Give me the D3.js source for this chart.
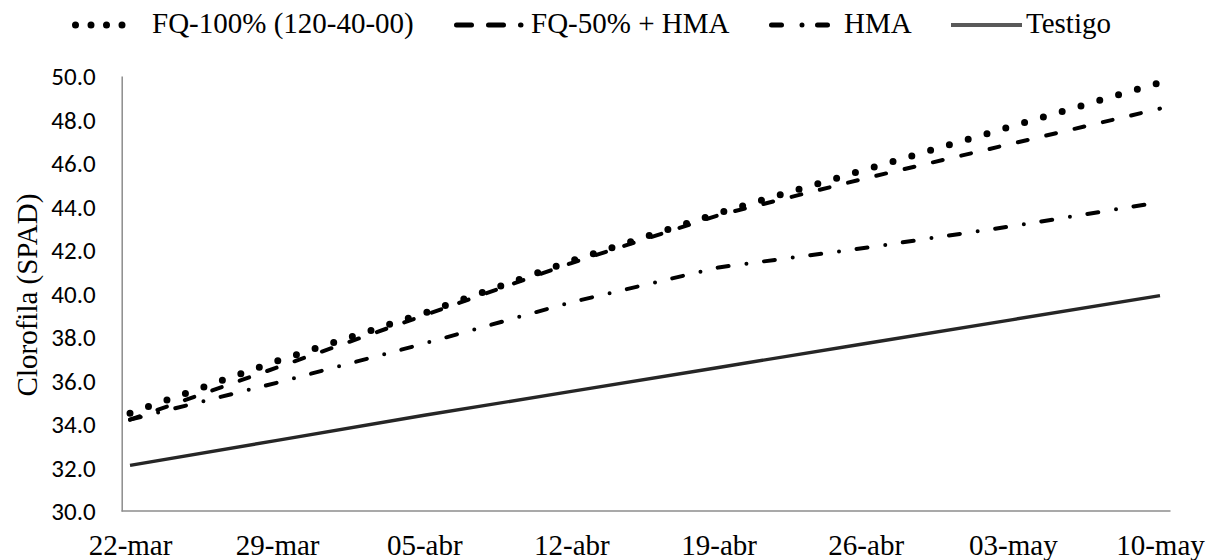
<!DOCTYPE html>
<html>
<head>
<meta charset="utf-8">
<script src="https://cdn.jsdelivr.net/npm/d3@7"></script>
<style>
  html, body { margin: 0; padding: 0; background: #fff; }
  svg { display: block; }
</style>
</head>
<body>
<svg id="chart" width="1207" height="560"></svg>
<script>
// ---- data ----
const dates = ["2019-03-22","2019-03-29","2019-04-05","2019-04-12","2019-04-19","2019-04-26","2019-05-03","2019-05-10"];
const xTickLabels = ["22-mar","29-mar","05-abr","12-abr","19-abr","26-abr","03-may","10-may"];
const yTickValues = [30, 32, 34, 36, 38, 40, 42, 44, 46, 48, 50];
const seriesNames = ["FQ-100% (120-40-00)", "FQ-50% + HMA", "HMA", "Testigo"];
const fq100   = [34.5, 36.9, 39.1, 41.5, 43.7, 45.7, 47.7, 49.7];
const fq50hma = [34.2, 36.6, 39.0, 41.4, 43.6, 45.3, 46.9, 48.5];
const hma     = [34.2, 35.9, 37.7, 39.6, 41.2, 42.1, 43.1, 44.2];
const testigo = [32.1, 33.25, 34.4, 35.5, 36.6, 37.7, 38.8, 39.9];
const yTitle = "Clorofila (SPAD)";

// ---- styles / layout ----
const SERIF = '"Liberation Serif"';
const SANS = '"Carlito"';
const styles = [
  { stroke: "#000", width: 7, dash: "0 19.6", cap: "round",
    lg: { width: 7, dash: "0 15.5", cap: "round", x0: 75.5, x1: 137.5, tx: 152 } },
  { stroke: "#000", width: 4, dash: "10 19.1", cap: "round",
    lg: { width: 5, dash: "15 17", cap: "round", x0: 456.5, x1: 521, tx: 531 } },
  { stroke: "#000", width: 4, dash: "11 18 0 17.7", cap: "round",
    lg: { width: 5, dash: "10 20.5 0 15.5", cap: "round", x0: 771.5, x1: 829.5, tx: 844 } },
  { stroke: "#262626", width: 3.4, dash: null, cap: "butt",
    lg: { width: 4, dash: null, cap: "butt", x0: 951, x1: 1022, tx: 1026, stroke: "#595959" } }
];

const svg = d3.select("#chart");
const parse = d3.utcParse("%Y-%m-%d");
const dts = dates.map(parse);
const halfDay = 12 * 3600 * 1000;

const x = d3.scaleUtc()
  .domain([new Date(dts[0].getTime() - halfDay), new Date(dts[dts.length - 1].getTime() + halfDay)])
  .range([119.5, 1170.5]);
const y = d3.scaleLinear().domain([30, 50]).range([511, 76]);

// axes
const xAxis = d3.axisBottom(x).tickValues(dts).tickSize(0).tickFormat((d, i) => xTickLabels[i]);
const gx = svg.append("g").attr("transform", `translate(0,${y(30)})`).call(xAxis)
  .attr("font-family", null).attr("font-size", null);
gx.select(".domain").attr("stroke", "#8c8c8c").attr("stroke-width", 1.5).attr("d", `M${x.range()[0] + 2},0H${x.range()[1]}`);
gx.selectAll("text").attr("y", 44).attr("dy", 0)
  .style("font-family", SERIF).style("font-size", "29px").attr("fill", "#000");

const yAxis = d3.axisLeft(y).tickValues(yTickValues).tickSize(0).tickFormat(d3.format(".1f"));
const gy = svg.append("g").attr("transform", `translate(121.7,0)`).call(yAxis)
  .attr("font-family", null).attr("font-size", null);
gy.select(".domain").attr("stroke", "#8c8c8c").attr("stroke-width", 1.5);
gy.selectAll("text").attr("x", -26).attr("dy", "0.34em")
  .style("font-family", SANS).style("font-size", "25px").attr("fill", "#000");

// y title
svg.append("text")
  .attr("transform", `translate(37,295) rotate(-90)`)
  .attr("text-anchor", "middle")
  .style("font-family", SERIF).style("font-size", "29px").attr("fill", "#000")
  .text(yTitle);

// lines
const allSeries = [fq100, fq50hma, hma, testigo];
const line = d3.line().x((d, i) => x(dts[i])).y(d => y(d));
[3, 2, 1, 0].forEach(k => {
  const s = styles[k];
  svg.append("path")
    .datum(allSeries[k])
    .attr("d", line)
    .attr("fill", "none")
    .attr("stroke", s.stroke)
    .attr("stroke-width", s.width)
    .attr("stroke-linecap", s.cap)
    .attr("stroke-linejoin", "round")
    .attr("stroke-dasharray", s.dash);
});

// legend
const lgY = 25;
const lg = svg.append("g");
seriesNames.forEach((name, k) => {
  const s = styles[k].lg;
  lg.append("line")
    .attr("x1", s.x0).attr("x2", s.x1).attr("y1", lgY).attr("y2", lgY)
    .attr("stroke", s.stroke || styles[k].stroke)
    .attr("stroke-width", s.width)
    .attr("stroke-linecap", s.cap)
    .attr("stroke-dasharray", s.dash);
  lg.append("text")
    .attr("x", s.tx).attr("y", 33)
    .style("font-family", SERIF).style("font-size", "29px").attr("fill", "#000")
    .text(name);
});
</script>
</body>
</html>
